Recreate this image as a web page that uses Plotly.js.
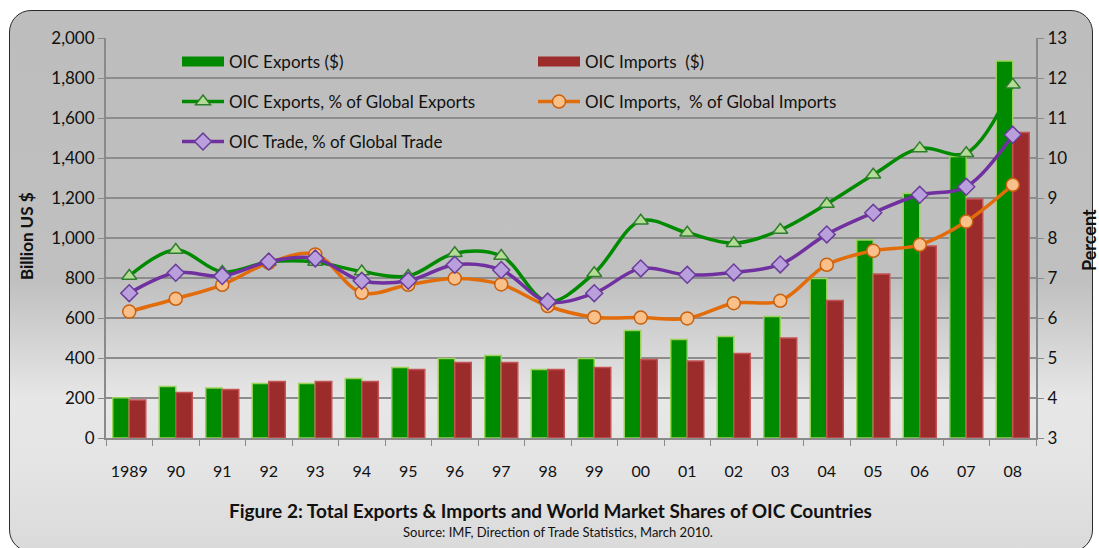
<!DOCTYPE html>
<html>
<head>
<meta charset="utf-8">
<script src="https://cdn.plot.ly/plotly-3.0.1.min.js"></script>
<style>
  html, body { margin:0; padding:0; width:1099px; height:548px; overflow:hidden; background:#ffffff; }
  #frame { position:absolute; left:9px; top:10px; width:1082px; height:540px; border:1.5px solid #2a2a2a; border-radius:22px;
    background: linear-gradient(to bottom, #bdbdbd 0%, #c0c0c0 50%, #e7e7e7 72%, #e4e4e4 85%, #dadada 100%); }
  #chart { position:absolute; left:0; top:0; width:1099px; height:548px; }
</style>
</head>
<body>
<div id="frame"></div>
<div id="chart"></div>
<script>
const years = ['1989','90','91','92','93','94','95','96','97','98','99','00','01','02','03','04','05','06','07','08'];
const exportsUSD = [201,257,250,272,272,297,352,397,412,343,397,537,492,507,607,798,990,1223,1407,1885];
const importsUSD = [190,227,243,283,283,283,343,377,377,343,353,392,385,423,500,687,820,960,1195,1528];
const exportsPct = [7.05,7.70,7.15,7.40,7.40,7.16,7.05,7.62,7.55,6.41,7.12,8.43,8.13,7.87,8.20,8.85,9.58,10.24,10.12,11.83];
const importsPct = [6.16,6.48,6.83,7.38,7.59,6.63,6.83,6.99,6.84,6.30,6.02,6.01,5.99,6.37,6.43,7.33,7.68,7.83,8.41,9.33];
const tradePct   = [6.62,7.13,7.05,7.41,7.49,6.93,6.93,7.33,7.20,6.41,6.62,7.24,7.08,7.14,7.34,8.09,8.63,9.08,9.28,10.58];

const FONT = 'Lato, "Open Sans", sans-serif';
const GREEN = '#008a00', RED = '#9c2b2b', LGREEN='#008a00', ORANGE='#e36c0a', PURPLE='#7030a0';

const traces = [
  {type:'bar', x:years, y:exportsUSD, name:'OIC Exports ($)', showlegend:false,
   marker:{color:GREEN, line:{color:'#9bd35a', width:1.5}}, hoverinfo:'y'},
  {type:'bar', x:years, y:importsUSD, name:'OIC Imports  ($)', showlegend:false,
   marker:{color:RED, line:{color:'#c45454', width:1.5}}, hoverinfo:'y'},
  {type:'scatter', mode:'lines+markers', x:years, y:exportsPct, yaxis:'y2', name:'OIC Exports, % of Global Exports', legend:'legend3',
   line:{color:LGREEN, width:3.5, shape:'spline', smoothing:1}, marker:{symbol:'triangle-up', size:13, color:'#b5dc96', line:{color:'#2f7d2f', width:1.5}}},
  {type:'scatter', mode:'lines+markers', x:years, y:importsPct, yaxis:'y2', name:'OIC Imports,  % of Global Imports', legend:'legend4',
   line:{color:ORANGE, width:3.5, shape:'spline', smoothing:1}, marker:{symbol:'circle', size:13, color:'#f9c089', line:{color:'#c8600e', width:1.5}}},
  {type:'scatter', mode:'lines+markers', x:years, y:tradePct, yaxis:'y2', name:'OIC Trade, % of Global Trade', legend:'legend5',
   line:{color:PURPLE, width:3.5, shape:'spline', smoothing:1}, marker:{symbol:'diamond', size:13, color:'#b9a0dc', line:{color:'#6a3d9a', width:1.5}}},
  // legend swatches for the bar series
  {type:'scatter', mode:'lines', x:[years[0]], y:[null], name:'OIC Exports ($)', legend:'legend', line:{color:GREEN, width:10}, hoverinfo:'skip'},
  {type:'scatter', mode:'lines', x:[years[0]], y:[null], name:'OIC Imports  ($)', legend:'legend2', line:{color:RED, width:10}, hoverinfo:'skip'}
];

function leg(xpx, ypx) {
  return {x:(xpx-106)/930, y:(438-ypx)/400, xanchor:'left', yanchor:'middle', bgcolor:'rgba(0,0,0,0)',
          borderwidth:0, itemwidth:42, font:{family:FONT, size:17, color:'#111'}, orientation:'h'};
}

const layout = {
  width:1099, height:548,
  margin:{l:106, r:63, t:38, b:110},
  paper_bgcolor:'rgba(0,0,0,0)', plot_bgcolor:'rgba(0,0,0,0)',
  font:{family:FONT, color:'#111'},
  barmode:'group', bargap:0.29, bargroupgap:0,
  xaxis:{type:'category', range:[-0.5, 19.5], showline:true, linecolor:'#8a8a8a', linewidth:2, ticks:'outside', tickson:'boundaries',
         ticklen:6, tickcolor:'#8a8a8a', tickangle:0, tickfont:{family:FONT, size:16, color:'#111'}, ticklabelstandoff:18, showgrid:false, fixedrange:true},
  yaxis:{range:[0,2000], dtick:200, tickformat:',', showline:true, linecolor:'#8a8a8a', linewidth:2, ticks:'outside', ticklen:6,
         tickcolor:'#8a8a8a', gridcolor:'#8c8c8c', gridwidth:1.5, tickfont:{family:FONT, size:17, color:'#111'}, zeroline:false, fixedrange:true},
  yaxis2:{range:[3,13], dtick:1, overlaying:'y', side:'right', showline:true, linecolor:'#8a8a8a', linewidth:2, ticks:'outside', ticklen:6,
          tickcolor:'#8a8a8a', showgrid:false, zeroline:false, tickfont:{family:FONT, size:17, color:'#111'}, fixedrange:true},
  legend: leg(177, 62),
  legend2: leg(533, 62),
  legend3: leg(177, 102),
  legend4: leg(533, 102),
  legend5: leg(177, 142),
  annotations:[
    {text:'<b>Billion US $</b>', textangle:-90, xref:'paper', yref:'paper', x:(26-106)/930, y:(438-236)/400, showarrow:false,
     xanchor:'center', yanchor:'middle', font:{family:FONT, size:17, color:'#111'}},
    {text:'<b>Percent</b>', textangle:-90, xref:'paper', yref:'paper', x:(1089-106)/930, y:(438-240)/400, showarrow:false,
     xanchor:'center', yanchor:'middle', font:{family:FONT, size:18, color:'#111'}},
    {text:'<b>Figure 2: Total Exports &amp; Imports and World Market Shares of OIC Countries</b>', xref:'paper', yref:'paper',
     x:(550-106)/930, y:(438-510)/400, showarrow:false, xanchor:'center', yanchor:'middle', font:{family:FONT, size:19, color:'#111'}},
    {text:'Source: IMF, Direction of Trade Statistics, March 2010.', xref:'paper', yref:'paper',
     x:(558-106)/930, y:(438-532)/400, showarrow:false, xanchor:'center', yanchor:'middle', font:{family:FONT, size:13, color:'#111'}}
  ]
};

Plotly.newPlot('chart', traces, layout, {displayModeBar:false, staticPlot:true});
</script>
</body>
</html>
